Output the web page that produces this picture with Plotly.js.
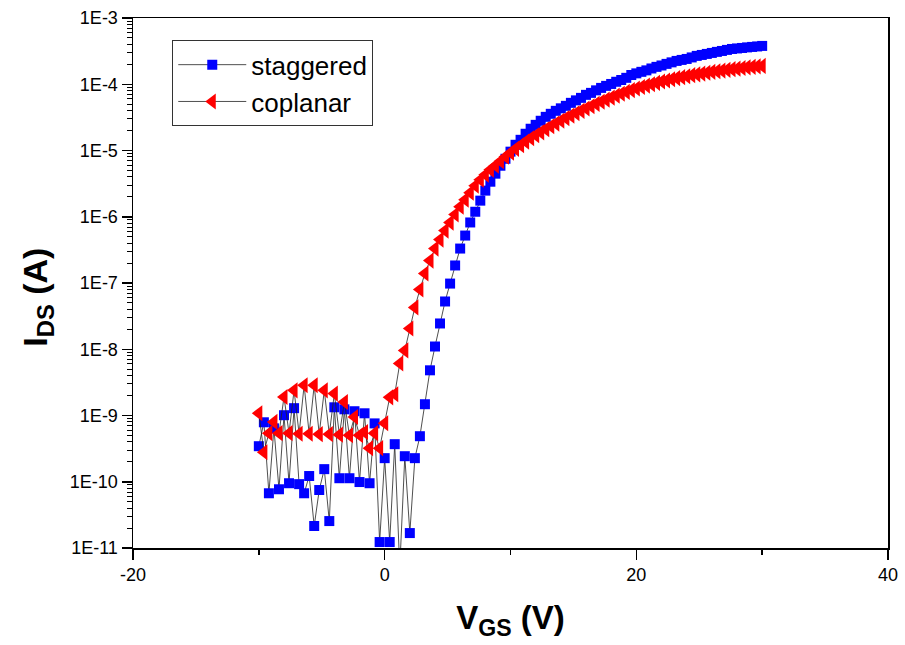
<!DOCTYPE html>
<html>
<head>
<meta charset="utf-8">
<script src="https://cdn.plot.ly/plotly-3.0.1.min.js"></script>
<style>
  html, body { margin: 0; padding: 0; background: #fff; }
  #chart { width: 905px; height: 645px; }
</style>
</head>
<body>
<div id="chart"></div>
<script>
// Gate-voltage sweep settings (V)
const VGS_START = -10;
const VGS_STEP = 0.4;

// Series names
const seriesNames = ["staggered", "coplanar"];

// I_DS (A), one value per sweep step (-10 V ... 30 V)
const staggered = [
  3.44e-10, 7.9e-10, 6.7e-11, 6.4e-10, 7.7e-11, 1.01e-9, 9.5e-11, 1.29e-9, 9.2e-11, 6.7e-11,
  1.22e-10, 2.15e-11, 7.5e-11, 1.55e-10, 2.55e-11, 1.33e-9, 1.13e-10, 1.24e-9, 1.13e-10, 1.16e-9,
  9.9e-11, 1.08e-9, 9.5e-11, 7.6e-10, 1.23e-11, 2.27e-10, 1.23e-11, 3.69e-10, 5e-12, 2.43e-10,
  1.68e-11, 2.27e-10, 4.87e-10,
  1.48e-9, 4.81e-9, 1.10e-8, 2.45e-8, 5.26e-8, 9.8e-8, 1.84e-7, 3.31e-7, 5.2e-7, 8.2e-7,
  1.19e-6, 1.75e-6, 2.48e-6, 3.38e-6, 4.47e-6, 5.89e-6, 7.5e-6, 9.6e-6, 1.22e-5, 1.45e-5,
  1.79e-5, 2.13e-5, 2.44e-5, 2.81e-5, 3.22e-5, 3.58e-5, 3.97e-5, 4.33e-5, 4.72e-5, 5.24e-5,
  5.71e-5, 6.23e-5, 6.92e-5, 7.41e-5, 8.09e-5, 8.81e-5, 9.45e-5, 1.01e-4, 1.09e-4, 1.16e-4,
  1.25e-4, 1.38e-4, 1.46e-4, 1.54e-4, 1.62e-4, 1.73e-4, 1.83e-4, 1.92e-4, 2.03e-4, 2.14e-4,
  2.25e-4, 2.33e-4, 2.41e-4, 2.54e-4, 2.68e-4, 2.77e-4, 2.87e-4, 2.97e-4, 3.08e-4, 3.18e-4,
  3.30e-4, 3.41e-4, 3.47e-4, 3.53e-4, 3.60e-4, 3.66e-4, 3.72e-4, 3.79e-4
];

const coplanar = [
  1.08e-9, 2.79e-10, 5.41e-10, 8.0e-10, 5.41e-10, 1.90e-9, 5.41e-10, 2.40e-9, 5.31e-10, 2.86e-9,
  5.31e-10, 2.86e-9, 5.22e-10, 2.40e-9, 5.22e-10, 2.14e-9, 5.13e-10, 1.60e-9, 5.04e-10, 9.5e-10,
  5.04e-10, 5.6e-10, 3.21e-10, 5.41e-10, 3.21e-10, 7.64e-10, 1.88e-9, 2.09e-9, 6.12e-9, 9.6e-9,
  2.06e-8, 4.28e-8, 7.98e-8, 1.39e-7, 2.18e-7, 3.31e-7, 4.52e-7, 6.18e-7, 8.16e-7, 1.08e-6,
  1.42e-6, 1.81e-6, 2.31e-6, 2.94e-6, 3.62e-6, 4.31e-6, 5.13e-6, 5.89e-6, 6.89e-6, 8.05e-6,
  9.25e-6, 1.06e-5, 1.20e-5, 1.36e-5, 1.53e-5, 1.70e-5, 1.88e-5, 2.09e-5, 2.32e-5, 2.55e-5,
  2.81e-5, 3.08e-5, 3.36e-5, 3.65e-5, 3.97e-5, 4.30e-5, 4.66e-5, 5.05e-5, 5.45e-5, 5.86e-5,
  6.28e-5, 6.73e-5, 7.18e-5, 7.67e-5, 8.17e-5, 8.63e-5, 9.10e-5, 9.55e-5, 1.00e-4, 1.05e-4,
  1.10e-4, 1.14e-4, 1.19e-4, 1.24e-4, 1.28e-4, 1.32e-4, 1.37e-4, 1.41e-4, 1.45e-4, 1.49e-4,
  1.54e-4, 1.57e-4, 1.61e-4, 1.65e-4, 1.69e-4, 1.72e-4, 1.76e-4, 1.80e-4, 1.83e-4, 1.86e-4,
  1.89e-4
];

// Axis ticks
const xTickVals = [-20, 0, 20, 40];
const xTickText = ["-20", "0", "20", "40"];
const yTickVals = [1e-11, 1e-10, 1e-9, 1e-8, 1e-7, 1e-6, 1e-5, 1e-4, 1e-3];
const yTickText = ["1E-11", "1E-10", "1E-9", "1E-8", "1E-7", "1E-6", "1E-5", "1E-4", "1E-3"];

const FONT = "Liberation Sans, Arial, sans-serif";

const traces = [
  {
    type: "scatter", mode: "lines+markers", name: seriesNames[0],
    x0: VGS_START, dx: VGS_STEP, y: staggered,
    line: { color: "#222", width: 0.8 },
    marker: { symbol: "square", size: 10, color: "#0000ff", line: { width: 0 } }
  },
  {
    type: "scatter", mode: "lines+markers", name: seriesNames[1],
    x0: VGS_START, dx: VGS_STEP, y: coplanar,
    line: { color: "#222", width: 0.8 },
    marker: { symbol: "triangle-left", size: 14, color: "#ff0000", line: { width: 0 } }
  }
];

const layout = {
  width: 905, height: 645,
  margin: { l: 133, r: 17, t: 18, b: 97 },
  paper_bgcolor: "#fff", plot_bgcolor: "#fff",
  font: { family: FONT, color: "#000" },
  showlegend: true,
  legend: {
    x: 0.052, y: 0.958, xanchor: "left", yanchor: "top",
    bgcolor: "#fff", bordercolor: "#333", borderwidth: 1,
    font: { size: 26, family: FONT, color: "#000" },
    tracegroupgap: 0, itemwidth: 68
  },
  xaxis: {
    range: [-20, 40], tickmode: "array", tickvals: xTickVals, ticktext: xTickText,
    ticks: "outside", ticklen: 10, tickwidth: 1.5, tickcolor: "#000",
    minor: { dtick: 10, ticks: "outside", ticklen: 5, tickwidth: 1.5, tickcolor: "#000", showgrid: false },
    showline: true, linecolor: "#000", linewidth: 1.5, mirror: true,
    showgrid: false, zeroline: false,
    tickfont: { size: 18, family: FONT, color: "#000" },
    title: { text: "<b>V<sub>GS</sub> (V)</b>", font: { size: 33, family: FONT, color: "#000" }, standoff: 22 }
  },
  yaxis: {
    type: "log", range: [-11, -3], tickmode: "array", tickvals: yTickVals, ticktext: yTickText,
    ticks: "outside", ticklen: 10, tickwidth: 1.5, tickcolor: "#000",
    minor: { dtick: "D1", ticks: "outside", ticklen: 5, tickwidth: 1, tickcolor: "#000", showgrid: false },
    showline: true, linecolor: "#000", linewidth: 1.5, mirror: true,
    showgrid: false, zeroline: false,
    tickfont: { size: 18, family: FONT, color: "#000" },
    title: { text: "<b>I<sub>DS</sub> (A)</b>&nbsp;&nbsp;&nbsp;", font: { size: 34, family: FONT, color: "#000" }, standoff: 12 }
  }
};

Plotly.newPlot("chart", traces, layout, { displayModeBar: false, staticPlot: true });
</script>
</body>
</html>
